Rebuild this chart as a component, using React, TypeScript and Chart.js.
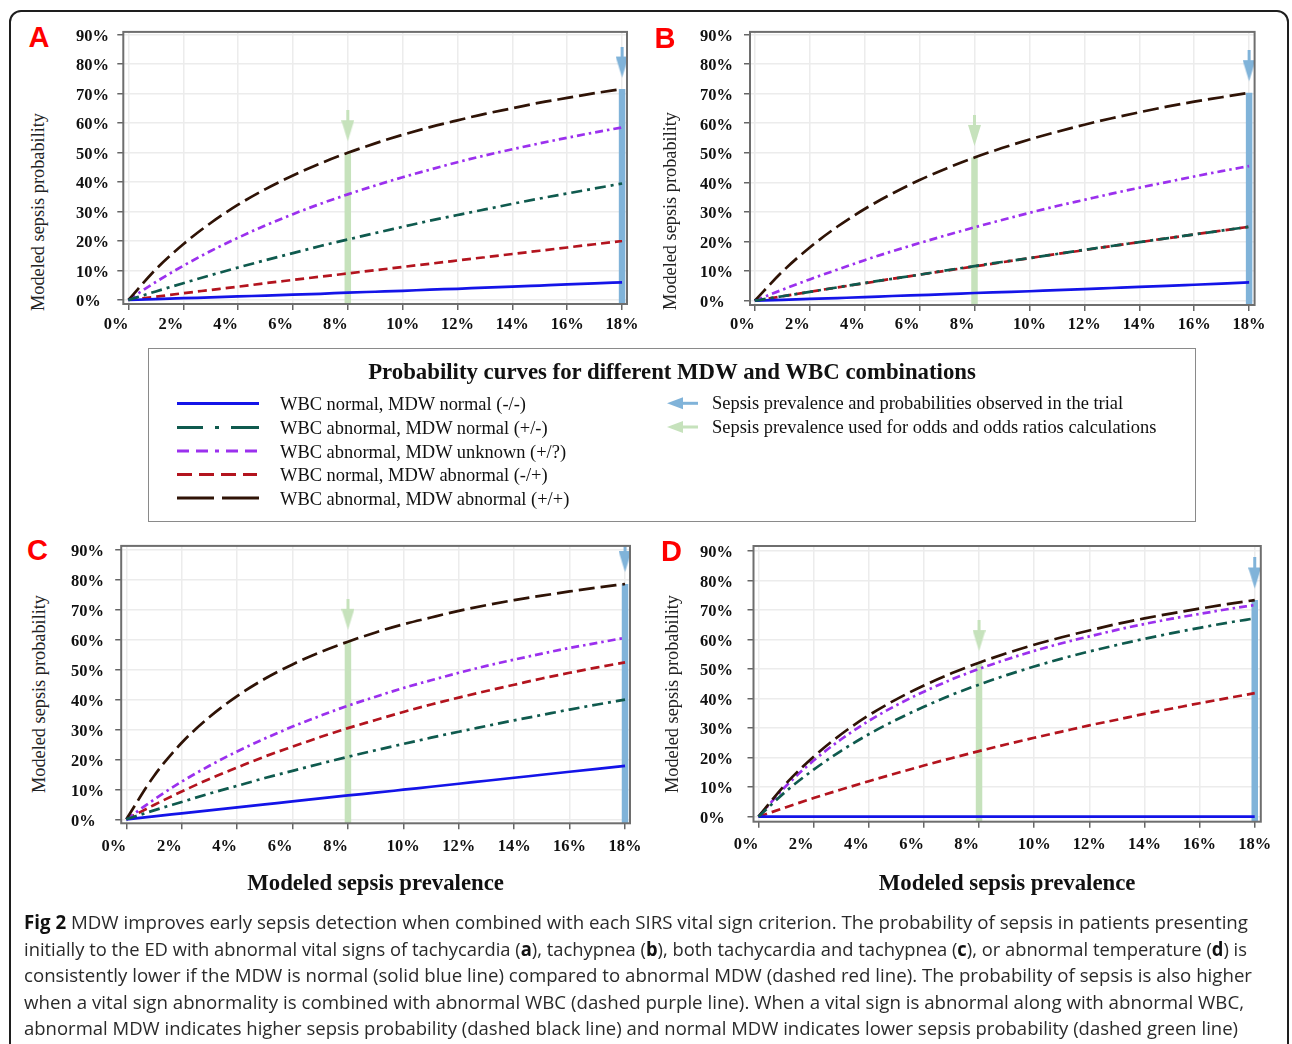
import React, { useEffect, useLayoutEffect, useRef } from 'react';
import { Chart, registerables } from 'chart.js';

Chart.register(...registerables);

// ---------------- data ----------------
const prevalence = [0, 1, 2, 3, 4, 5, 6, 7, 8, 9, 10, 11, 12, 13, 14, 15, 16, 17, 18];
const xTickValues = [0, 2, 4, 6, 8, 10, 12, 14, 16, 18];
const xTickLabels = ['0%', '2%', '4%', '6%', '8%', '10%', '12%', '14%', '16%', '18%'];
const yTickValues = [0, 10, 20, 30, 40, 50, 60, 70, 80, 90];
const yTickLabels = ['0%', '10%', '20%', '30%', '40%', '50%', '60%', '70%', '80%', '90%'];
// arrows: [used for odds (green), observed in trial (blue)]
const arrowPrevalence = [8, 18];

// Panel A (tachycardia)
const aBlue = [0, 0.3, 0.6, 0.9, 1.2, 1.5, 1.8, 2.1, 2.5, 2.8, 3.1, 3.5, 3.8, 4.2, 4.5, 4.9, 5.3, 5.6, 6.0];
const aGreen = [0, 2.9, 5.7, 8.4, 11.0, 13.5, 15.9, 18.3, 20.5, 22.7, 24.8, 26.9, 28.8, 30.7, 32.6, 34.4, 36.1, 37.8, 39.5];
const aPurple = [0, 6.1, 11.6, 16.6, 21.1, 25.3, 29.1, 32.6, 35.8, 38.8, 41.6, 44.2, 46.7, 49.0, 51.1, 53.1, 55.0, 56.8, 58.5];
const aRed = [0, 1.1, 2.3, 3.4, 4.5, 5.7, 6.8, 7.9, 9.0, 10.1, 11.2, 12.3, 13.4, 14.5, 15.6, 16.7, 17.8, 18.9, 20.0];
const aBlack = [0, 10.4, 18.9, 26.1, 32.3, 37.6, 42.2, 46.3, 49.9, 53.1, 56.0, 58.6, 60.9, 63.1, 65.0, 66.9, 68.5, 70.1, 71.5];

// Panel B (tachypnea)
const bBlue = [0, 0.3, 0.6, 0.9, 1.2, 1.6, 1.9, 2.2, 2.6, 2.9, 3.2, 3.6, 3.9, 4.3, 4.7, 5.0, 5.4, 5.8, 6.2];
const bGreen = [0, 1.5, 3.0, 4.5, 6.0, 7.4, 8.8, 10.3, 11.7, 13.1, 14.4, 15.8, 17.2, 18.5, 19.8, 21.1, 22.4, 23.7, 25.0];
const bPurple = [0, 3.7, 7.2, 10.5, 13.7, 16.7, 19.5, 22.2, 24.8, 27.3, 29.7, 32.0, 34.1, 36.2, 38.2, 40.1, 42.0, 43.8, 45.5];
const bRed = [0, 1.5, 3.0, 4.5, 5.9, 7.4, 8.8, 10.2, 11.6, 13.0, 14.4, 15.8, 17.1, 18.5, 19.8, 21.1, 22.4, 23.7, 25.0];
const bBlack = [0, 9.8, 18.0, 25.0, 31.0, 36.2, 40.8, 44.8, 48.4, 51.6, 54.5, 57.1, 59.5, 61.7, 63.7, 65.6, 67.3, 68.8, 70.3];

// Panel C (tachycardia + tachypnea)
const cBlue = [0, 1.0, 2.0, 3.0, 4.0, 5.0, 6.0, 7.0, 8.0, 8.9, 9.9, 10.9, 11.9, 12.9, 13.9, 14.9, 15.9, 16.9, 17.9];
const cGreen = [0, 3.0, 5.8, 8.6, 11.2, 13.8, 16.2, 18.6, 20.9, 23.1, 25.2, 27.3, 29.3, 31.2, 33.1, 34.9, 36.7, 38.4, 40.0];
const cPurple = [0, 6.6, 12.6, 17.9, 22.7, 27.0, 31.0, 34.6, 38.0, 41.0, 43.9, 46.5, 49.0, 51.3, 53.4, 55.4, 57.3, 59.0, 60.7];
const cRed = [0, 4.8, 9.3, 13.5, 17.3, 21.0, 24.3, 27.5, 30.5, 33.2, 35.9, 38.4, 40.7, 42.9, 45.0, 47.1, 49.0, 50.8, 52.5];
const cBlack = [0, 14.5, 25.6, 34.2, 41.2, 47.0, 51.8, 55.9, 59.4, 62.5, 65.2, 67.5, 69.7, 71.6, 73.3, 74.8, 76.2, 77.5, 78.7];

// Panel D (abnormal temperature)
const dBlue = [0, 0, 0, 0, 0, 0, 0, 0, 0, 0, 0, 0, 0, 0, 0, 0, 0, 0, 0];
const dGreen = [0, 8.6, 15.9, 22.3, 27.9, 32.8, 37.2, 41.2, 44.7, 47.9, 50.8, 53.5, 55.9, 58.1, 60.2, 62.1, 63.9, 65.6, 67.1];
const dPurple = [0, 10.4, 19.0, 26.2, 32.4, 37.7, 42.3, 46.4, 50.0, 53.2, 56.1, 58.7, 61.0, 63.2, 65.2, 67.0, 68.6, 70.2, 71.6];
const dRed = [0, 3.2, 6.3, 9.2, 12.0, 14.7, 17.3, 19.8, 22.2, 24.5, 26.7, 28.8, 30.9, 32.8, 34.8, 36.6, 38.4, 40.1, 41.8];
const dBlack = [0, 11.2, 20.3, 27.9, 34.3, 39.7, 44.4, 48.5, 52.1, 55.3, 58.2, 60.7, 63.0, 65.2, 67.1, 68.8, 70.4, 71.9, 73.3];

const seriesNames = [
  'WBC normal, MDW normal (-/-)',
  'WBC abnormal, MDW normal (+/-)',
  'WBC abnormal, MDW unknown (+/?)',
  'WBC normal, MDW abnormal (-/+)',
  'WBC abnormal, MDW abnormal (+/+)',
];
const arrowNames = [
  'Sepsis prevalence and probabilities observed in the trial',
  'Sepsis prevalence used for odds and odds ratios calculations',
];
const legendTitle = 'Probability curves for different MDW and WBC combinations';
const yAxisTitle = 'Modeled sepsis probability';
const xAxisTitle = 'Modeled sepsis prevalence';

const captionLines: [string, boolean][][] = [
  [['Fig 2', true], [' MDW improves early sepsis detection when combined with each SIRS vital sign criterion. The probability of sepsis in patients presenting', false]],
  [['initially to the ED with abnormal vital signs of tachycardia (', false], ['a', true], ['), tachypnea (', false], ['b', true], ['), both tachycardia and tachypnea (', false], ['c', true], ['), or abnormal temperature (', false], ['d', true], [') is', false]],
  [['consistently lower if the MDW is normal (solid blue line) compared to abnormal MDW (dashed red line). The probability of sepsis is also higher', false]],
  [['when a vital sign abnormality is combined with abnormal WBC (dashed purple line). When a vital sign is abnormal along with abnormal WBC,', false]],
  [['abnormal MDW indicates higher sepsis probability (dashed black line) and normal MDW indicates lower sepsis probability (dashed green line)', false]],
];

// ---------------- styles ----------------
const SERIF = '"Liberation Serif", "Times New Roman", serif';
const SANS = '"Liberation Sans", Arial, sans-serif';
const STYLE: any = {
  blue: { color: '#1414e8', dash: [], legendDash: '' },
  green: { color: '#0f5a4e', dash: [11, 5, 3, 5], legendDash: '26 12 4 12 28' },
  purple: { color: '#9b30ee', dash: [8, 4, 2.5, 4], legendDash: '12 7 12 7 4 7 12 7 12' },
  red: { color: '#b3141e', dash: [9, 5], legendDash: '15 7 15 7 15 7 14' },
  black: { color: '#2f1306', dash: [16, 6], legendDash: '37 8 37' },
};
const legendOrder = ['blue', 'green', 'purple', 'red', 'black'];
const ARROW_GREEN = '#c6e2bc';
const ARROW_BLUE = '#80b3d9';
const ARROW_LIFT = 9;
const TICK_FONT_SIZE = 16.5;
const LABEL_SHIFT = '\u2002\u2002\u2002';

const panels: any[] = [
  {
    letter: 'A', blue: aBlue, green: aGreen, purple: aPurple, red: aRed, black: aBlack,
    canvas: { x: 76, y: 16, w: 579, h: 334 }, area: { l: 123.3, r: 627, t: 31.7, b: 304 },
    xMin: -0.186, xMax: 18.18, yMin: -1.36, yMax: 90.88, xTickPad: 5, xTitle: false,
    letterPos: { x: 28.5, y: 23 }, yTitlePos: { x: 38, y: 211.5 },
  },
  {
    letter: 'B', blue: bBlue, green: bGreen, purple: bPurple, red: bRed, black: bBlack,
    canvas: { x: 700, y: 16, w: 585, h: 334 }, area: { l: 750, r: 1254.6, t: 31.7, b: 305 },
    xMin: -0.175, xMax: 18.2, yMin: -1.45, yMax: 90.88, xTickPad: 4, xTitle: false,
    letterPos: { x: 654.6, y: 24.3 }, yTitlePos: { x: 670, y: 211 },
  },
  {
    letter: 'C', blue: cBlue, green: cGreen, purple: cPurple, red: cRed, black: cBlack,
    canvas: { x: 71, y: 530, w: 584, h: 380 }, area: { l: 121.2, r: 630, t: 545, b: 823.3 },
    xMin: -0.184, xMax: 18.18, yMin: -1.33, yMax: 91.43, xTickPad: 8, xTitle: true, xTitleY: 884,
    letterPos: { x: 27, y: 536.3 }, yTitlePos: { x: 38.5, y: 693.5 },
  },
  {
    letter: 'D', blue: dBlue, green: dGreen, purple: dPurple, red: dRed, black: dBlack,
    canvas: { x: 700, y: 530, w: 585, h: 380 }, area: { l: 753.5, r: 1260.8, t: 546, b: 821.7 },
    xMin: -0.18, xMax: 18.22, yMin: -1.69, yMax: 91.59, xTickPad: 7, xTitle: true, xTitleY: 884,
    letterPos: { x: 661, y: 537 }, yTitlePos: { x: 672, y: 694 },
  },
];

function arrowImage(color: string) {
  const c = document.createElement('canvas');
  c.width = 13;
  c.height = 32;
  const g = c.getContext('2d')!;
  g.fillStyle = color;
  g.fillRect(5, 0, 3, 11);
  g.beginPath();
  g.moveTo(0, 10);
  g.lineTo(13, 10);
  g.lineTo(6.5, 31);
  g.closePath();
  g.fill();
  return c;
}

const framePlugin = {
  id: 'frame',
  afterDatasetsDraw(chart: any) {
    const { ctx, chartArea } = chart;
    ctx.save();
    ctx.strokeStyle = '#6e6e6e';
    ctx.lineWidth = 2;
    ctx.strokeRect(chartArea.left, chartArea.top, chartArea.right - chartArea.left, chartArea.bottom - chartArea.top);
    ctx.restore();
  },
};

function makeConfig(p: any) {
  const curve = (values: number[], key: string, label: string) => ({
    label,
    data: prevalence.map((x, i) => ({ x, y: values[i] })),
    borderColor: STYLE[key].color,
    backgroundColor: STYLE[key].color,
    borderWidth: 2.7,
    borderDash: STYLE[key].dash,
    borderCapStyle: 'butt',
    pointRadius: 0,
    fill: false,
    cubicInterpolationMode: 'monotone',
  });
  const datasets: any[] = [
    curve(p.green, 'green', seriesNames[1]),
    curve(p.blue, 'blue', seriesNames[0]),
    curve(p.black, 'black', seriesNames[4]),
    curve(p.purple, 'purple', seriesNames[2]),
    curve(p.red, 'red', seriesNames[3]),
  ];
  arrowPrevalence.forEach((ax, k) => {
    const top = p.black[prevalence.indexOf(ax)];
    const col = k === 0 ? ARROW_GREEN : ARROW_BLUE;
    datasets.push({
      label: arrowNames[1 - k] + ' (head)',
      data: [{ x: ax, y: top + ARROW_LIFT }],
      showLine: false,
      pointStyle: arrowImage(col),
      pointRadius: 6,
      borderWidth: 0,
      backgroundColor: col,
    });
    datasets.push({
      label: arrowNames[1 - k],
      data: [{ x: ax, y: top }, { x: ax, y: p.yMin }],
      borderColor: col,
      borderWidth: 6.5,
      borderCapStyle: 'butt',
      pointRadius: 0,
      tension: 0,
    });
  });

  const yWidth = p.area.l - p.canvas.x;
  const padRight = p.canvas.x + p.canvas.w - p.area.r;
  const padTop = p.area.t - p.canvas.y;
  const xHeight = p.canvas.y + p.canvas.h - p.area.b;
  const tickFont = { family: SERIF, size: TICK_FONT_SIZE, weight: 'bold' as const };
  const grid = { color: '#ececec', lineWidth: 1.5, tickColor: '#666', tickLength: 6, tickWidth: 1.5, drawTicks: true };

  return {
    type: 'line' as const,
    data: { datasets },
    options: {
      responsive: false,
      animation: false,
      events: [],
      layout: { padding: { top: padTop, right: padRight, bottom: 0, left: 0 } },
      plugins: { legend: { display: false }, tooltip: { enabled: false }, title: { display: false } },
      scales: {
        x: {
          type: 'linear',
          min: p.xMin,
          max: p.xMax,
          afterBuildTicks: (s: any) => { s.ticks = xTickValues.map((v) => ({ value: v })); },
          afterFit: (s: any) => { s.height = xHeight; },
          grid,
          border: { display: false },
          ticks: {
            font: tickFont,
            color: '#111',
            padding: p.xTickPad,
            maxRotation: 0,
            autoSkip: false,
            callback: (_v: any, i: number) => (xTickLabels[i].length < 3 ? xTickLabels[i] + LABEL_SHIFT : xTickLabels[i]),
          },
          title: p.xTitle
            ? {
                display: true,
                text: xAxisTitle,
                color: '#111',
                font: { family: SERIF, size: 22.8, weight: 'bold' },
                padding: { top: 0, bottom: p.canvas.y + p.canvas.h - p.xTitleY - 13.7 },
              }
            : { display: false },
        },
        y: {
          type: 'linear',
          min: p.yMin,
          max: p.yMax,
          afterBuildTicks: (s: any) => { s.ticks = yTickValues.map((v) => ({ value: v })); },
          afterFit: (s: any) => { s.width = yWidth; },
          grid,
          border: { display: false },
          ticks: {
            font: tickFont,
            color: '#111',
            padding: 6,
            crossAlign: 'far',
            labelOffset: 2,
            autoSkip: false,
            callback: (_v: any, i: number) => yTickLabels[i],
          },
        },
      },
    },
    plugins: [framePlugin],
  };
}

function Panel({ p }: { p: any }) {
  const ref = useRef<HTMLCanvasElement | null>(null);
  useEffect(() => {
    if (!ref.current) return;
    const chart = new Chart(ref.current, makeConfig(p) as any);
    return () => chart.destroy();
  }, [p]);
  return (
    <>
      <canvas
        ref={ref}
        width={p.canvas.w}
        height={p.canvas.h}
        style={{ position: 'absolute', left: p.canvas.x, top: p.canvas.y, width: p.canvas.w, height: p.canvas.h }}
      />
      <div
        style={{
          position: 'absolute', left: p.letterPos.x, top: p.letterPos.y, font: `bold 29px ${SANS}`,
          lineHeight: '29px', color: '#ff0000',
        }}
      >
        {p.letter}
      </div>
      <div
        style={{
          position: 'absolute', left: p.yTitlePos.x, top: p.yTitlePos.y, transform: 'translate(-50%, -50%) rotate(-90deg)',
          whiteSpace: 'nowrap', font: `18.3px ${SERIF}`, lineHeight: '20px', color: '#222',
        }}
      >
        {yAxisTitle}
      </div>
    </>
  );
}

const LEG_BOX = { x: 148, y: 348, w: 1048, h: 174 };
const LEG_ROWS_Y = [403.5, 427.5, 451, 474.5, 498];
const ARROW_ROWS_Y = [403.3, 427];

function Legend() {
  const bx = LEG_BOX.x;
  const by = LEG_BOX.y;
  return (
    <>
      <div
        style={{
          position: 'absolute', left: bx, top: by, width: LEG_BOX.w, height: LEG_BOX.h,
          border: '1.5px solid #8a8a8a', boxSizing: 'border-box',
        }}
      />
      <div
        style={{
          position: 'absolute', left: bx, top: 372 - 13, width: LEG_BOX.w, height: 26, lineHeight: '26px',
          textAlign: 'center', font: `bold 22.8px ${SERIF}`, color: '#111', whiteSpace: 'nowrap',
        }}
      >
        {legendTitle}
      </div>
      <svg
        width={LEG_BOX.w}
        height={LEG_BOX.h}
        style={{ position: 'absolute', left: bx, top: by }}
      >
        {legendOrder.map((k, i) => (
          <line
            key={k}
            x1={177 - bx}
            x2={259 - bx}
            y1={LEG_ROWS_Y[i] - by}
            y2={LEG_ROWS_Y[i] - by}
            stroke={STYLE[k].color}
            strokeWidth={3}
            strokeDasharray={STYLE[k].legendDash || undefined}
          />
        ))}
        {[ARROW_BLUE, ARROW_GREEN].map((col, i) => {
          const cy = ARROW_ROWS_Y[i] - by;
          return (
            <g key={col} fill={col}>
              <polygon points={`${667 - bx},${cy} ${683 - bx},${cy - 6} ${683 - bx},${cy + 6}`} />
              <rect x={682 - bx} y={cy - 1.5} width={16} height={3} />
            </g>
          );
        })}
      </svg>
      {seriesNames.map((name, i) => (
        <div
          key={name}
          style={{
            position: 'absolute', left: 280, top: LEG_ROWS_Y[i] + 0.5 - 10, height: 20, lineHeight: '20px',
            font: `18.45px ${SERIF}`, color: '#111', whiteSpace: 'nowrap',
          }}
        >
          {name}
        </div>
      ))}
      {arrowNames.map((name, i) => (
        <div
          key={name}
          style={{
            position: 'absolute', left: 712, top: ARROW_ROWS_Y[i] - 0.5 - 10, height: 20, lineHeight: '20px',
            font: `18.45px ${SERIF}`, color: '#111', whiteSpace: 'nowrap',
          }}
        >
          {name}
        </div>
      ))}
    </>
  );
}

const CAPTION_LEFT = 24;
const CAPTION_RIGHTS = [1248, 1247, 1252, 1244, 1238];
const CAPTION_BASELINES = [930, 956.5, 983, 1009.5, 1036];

function Caption() {
  const refs = useRef<(HTMLSpanElement | null)[]>([]);
  useLayoutEffect(() => {
    const fit = () => {
      refs.current.forEach((el, i) => {
        if (!el) return;
        el.style.transform = 'none';
        const w = el.getBoundingClientRect().width;
        if (w > 0) el.style.transform = `scaleX(${(CAPTION_RIGHTS[i] - CAPTION_LEFT) / w})`;
      });
    };
    fit();
    const f: any = (document as any).fonts;
    if (f && f.ready) f.ready.then(fit);
  }, []);
  return (
    <>
      {captionLines.map((segs, i) => (
        <div
          key={i}
          style={{
            position: 'absolute', left: CAPTION_LEFT, top: CAPTION_BASELINES[i] - 20.6, height: 26.5,
            lineHeight: '26.5px', font: `19px "Open Sans", "Noto Sans", sans-serif`, color: '#2a2a2a', whiteSpace: 'nowrap',
          }}
        >
          <span
            ref={(el) => { refs.current[i] = el; }}
            style={{ display: 'inline-block', transformOrigin: '0 50%' }}
          >
            {segs.map(([t, b], j) => (b ? <b key={j} style={{ fontWeight: 700, color: '#111' }}>{t}</b> : <span key={j}>{t}</span>))}
          </span>
        </div>
      ))}
    </>
  );
}

export default function App() {
  return (
    <div
      style={{
        position: 'absolute', left: 0, top: 0, width: 1292, height: 1044, overflow: 'hidden', background: '#ffffff',
      }}
    >
      <div
        style={{
          position: 'absolute', left: 9, top: 10, width: 1280, height: 1100, border: '2px solid #1e1e1e',
          borderRadius: 12, boxSizing: 'border-box',
        }}
      />
      {panels.map((p) => (
        <Panel key={p.letter} p={p} />
      ))}
      <Legend />
      <Caption />
    </div>
  );
}
